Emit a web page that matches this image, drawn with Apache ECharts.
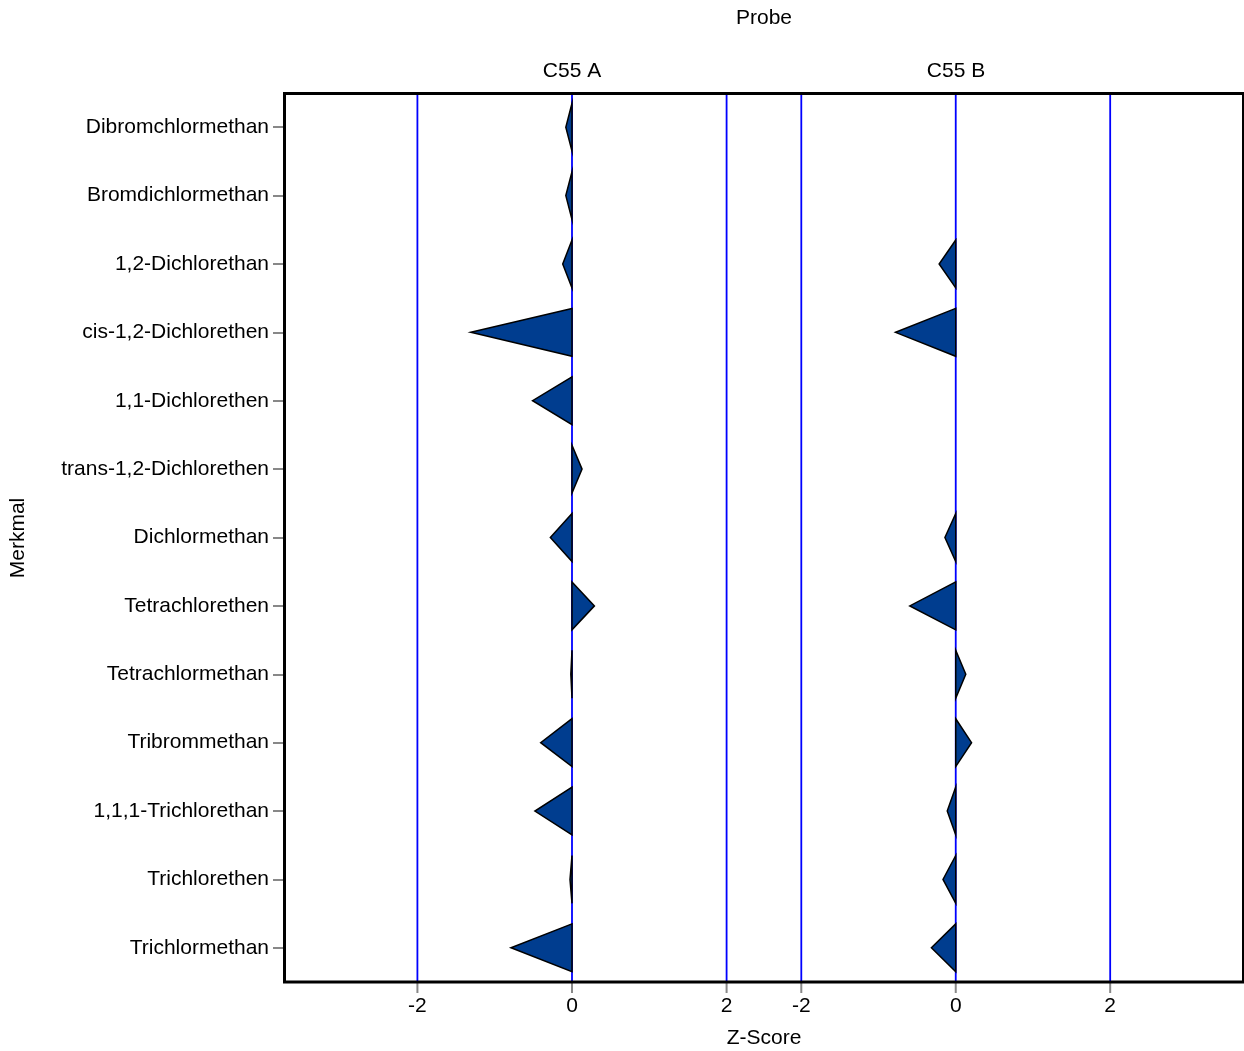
<!DOCTYPE html>
<html>
<head>
<meta charset="utf-8">
<script src="https://cdn.jsdelivr.net/npm/echarts@6/dist/echarts.min.js"></script>
<style>html,body{margin:0;padding:0;background:#fff}#c{width:1244px;height:1051px}</style>
</head>
<body>
<div id="c"></div>
<script>
const categories = ["Dibromchlormethan","Bromdichlormethan","1,2-Dichlorethan","cis-1,2-Dichlorethen","1,1-Dichlorethen","trans-1,2-Dichlorethen","Dichlormethan","Tetrachlorethen","Tetrachlormethan","Tribrommethan","1,1,1-Trichlorethan","Trichlorethen","Trichlormethan"];
const panels = ["C55 A","C55 B"];
const valuesA = [-0.08,-0.08,-0.12,-1.31,-0.51,0.13,-0.28,0.29,-0.015,-0.405,-0.48,-0.026,-0.79];
const valuesB = [null,null,-0.215,-0.78,null,null,-0.14,-0.595,0.13,0.205,-0.11,-0.165,-0.315];
const refLines = [-2,0,2];
const tickLabels = [-2,0,2];

const FONT = '"Liberation Sans", Arial, sans-serif';
const FS = 21;
const fill = '#003d8f';

function triData(vals){
  const out=[];
  vals.forEach((v,i)=>{ if(v!==null) out.push([v,i]); });
  return out;
}
function triRender(params, api){
  const v = api.value(0), c = api.value(1);
  const tip = api.coord([v, c]);
  const base = api.coord([0, c]);
  const h = api.size([0, 1])[1] * 0.35;
  return {type:'polygon', shape:{points:[[base[0], base[1]-h],[tip[0], tip[1]],[base[0], base[1]+h]]},
    style:{fill:fill, stroke:'#000', lineWidth:1.5}};
}
function lineRender(params, api){
  const cs = params.coordSys;
  const x = api.coord([api.value(0), 0])[0];
  const yb = cs.y + cs.height;
  return {type:'group', children:[
    {type:'line', shape:{x1:x, y1:cs.y, x2:x, y2:yb}, style:{stroke:'#0000ff', lineWidth:1.8}},
    {type:'line', shape:{x1:x, y1:yb, x2:x, y2:yb+11}, style:{stroke:'#888', lineWidth:2}}
  ]};
}

const grids = [
  {left:284, top:93, width:480, height:889},
  {left:764, top:93, width:479, height:889}
];
const ranges = [[-3.726, 2.484],[-2.483, 3.72]];

const xAxes = ranges.map((r,i)=>({
  type:'value', gridIndex:i, min:r[0], max:r[1], position:'bottom',
  axisLine:{show:false, onZero:false}, splitLine:{show:false},
  axisTick:{show:false},
  axisLabel:{customValues:tickLabels, fontSize:FS, fontFamily:FONT, color:'#000', margin:14}
}));
const yAxes = [0,1].map(i=>({
  type:'category', gridIndex:i, data:categories, inverse:true, position:'left',
  axisLine:{show:false, onZero:false}, splitLine:{show:false},
  axisTick:{show:i===0, alignWithLabel:true, length:11, lineStyle:{color:'#888', width:2}},
  axisLabel:{show:i===0, fontSize:FS, fontFamily:FONT, color:'#000', margin:15}
}));

const series = [];
[valuesA, valuesB].forEach((vals,i)=>{
  series.push({type:'custom', xAxisIndex:i, yAxisIndex:i, z:1, silent:true, clip:false,
    data:refLines.map(v=>[v]), encode:{x:0}, renderItem:lineRender});
  series.push({type:'custom', xAxisIndex:i, yAxisIndex:i, z:2, silent:true, clip:false,
    data:triData(vals), encode:{x:0, y:1}, renderItem:triRender});
});

const txt = (t,x,y,extra)=>Object.assign({type:'text', x:x, y:y, z:100,
  style:{text:t, font:FS+'px '+FONT, fill:'#000', align:'center', verticalAlign:'middle'}}, extra||{});

const chart = echarts.init(document.getElementById('c'), null, {renderer:'canvas'});
chart.setOption({
  animation:false,
  backgroundColor:'#fff',
  grid:grids,
  xAxis:xAxes,
  yAxis:yAxes,
  series:series,
  graphic:[
    {type:'rect', z:100, shape:{x:284.5, y:93.5, width:959, height:888.5}, style:{fill:'none', stroke:'#000', lineWidth:3}},
    txt('Probe', 764, 18),
    txt(panels[0], 572, 71),
    txt(panels[1], 956, 71),
    txt('Z-Score', 764, 1038),
    txt('Merkmal', 18, 538, {rotation:Math.PI/2})
  ]
});
</script>
</body>
</html>
